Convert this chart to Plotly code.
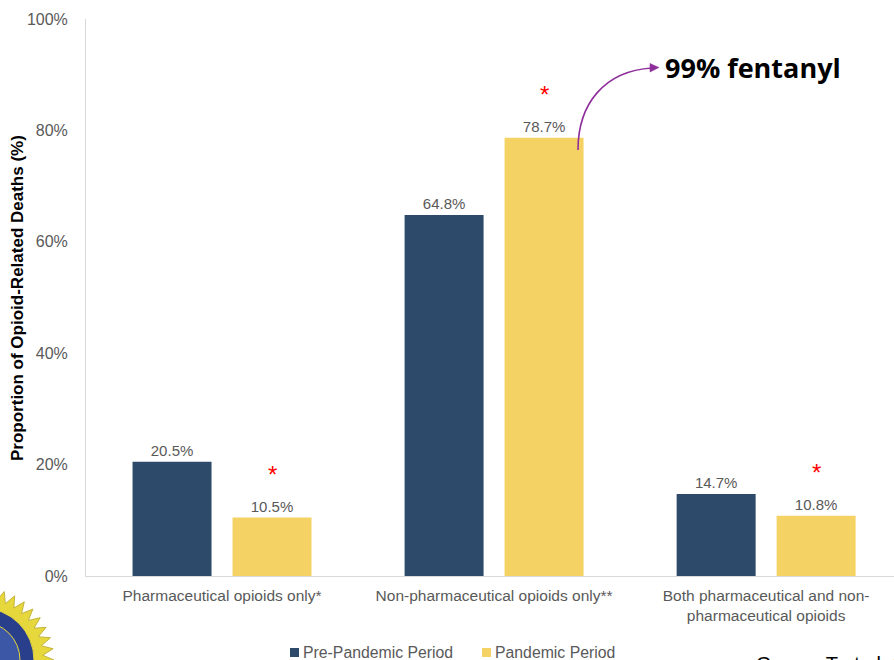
import numpy as np
import plotly.graph_objects as go

# Opioid-related deaths by opioid type, before vs during the pandemic
categories = [
    "Pharmaceutical opioids only*",
    "Non-pharmaceutical opioids only**",
    "Both pharmaceutical and non-<br>pharmaceutical opioids",
]
series_names = ["Pre-Pandemic Period", "Pandemic Period"]
pre_pandemic = [20.5, 64.8, 14.7]
pandemic = [10.5, 78.7, 10.8]
significant = [True, True, True]
y_ticks = [0, 20, 40, 60, 80, 100]
y_tick_labels = ["0%", "20%", "40%", "60%", "80%", "100%"]

NAVY = "#2E4A6B"
GOLD = "#F5D264"
GREY = "#595959"
PURPLE = "#8E2E9A"
FONT = "Liberation Sans, Arial"

W, H = 894, 660
L, R, T, B = 86, 0, 19, 84
PW, PH = W - L - R, H - T - B


def px(x):
    return (x - L) / PW


def py(y):
    return (H - B - y) / PH


xs = list(range(len(categories)))
fig = go.Figure()
for name, vals, col in [(series_names[0], pre_pandemic, NAVY), (series_names[1], pandemic, GOLD)]:
    fig.add_trace(go.Bar(
        x=xs, y=vals, name=name, marker=dict(color=col, line=dict(width=0)),
        text=[f"{v:.1f}%" for v in vals], textposition="outside",
        textfont=dict(family=FONT, size=15, color=GREY),
        cliponaxis=False, showlegend=False,
    ))

annotations = []
# significance markers above pandemic bars
offset = 0.184
for i, v in enumerate(pandemic):
    if significant[i]:
        annotations.append(dict(
            x=i + offset, y=v, xref="x", yref="y", text="*", showarrow=False,
            yanchor="bottom", yshift=28,
            font=dict(family=FONT, size=24, color="#FF0000"),
        ))

# y-axis title
annotations.append(dict(
    x=px(17), y=py(298), xref="paper", yref="paper", textangle=-90,
    xanchor="center", yanchor="middle",
    text="<b>Proportion of Opioid-Related Deaths (%)</b>", showarrow=False,
    font=dict(family=FONT, size=17, color="#000000"),
))

# callout text
annotations.append(dict(
    x=px(663), y=py(67), xref="paper", yref="paper", xanchor="left", yanchor="middle",
    text="<b>99% fentanyl</b>", showarrow=False,
    font=dict(family="Open Sans", size=27, color="#000000"),
))

# source line (runs off the bottom edge)
annotations.append(dict(
    x=px(754), y=py(651), xref="paper", yref="paper", xanchor="left", yanchor="top",
    text="Gomes T et al. CMAJ 2021", showarrow=False,
    font=dict(family=FONT, size=20, color="#000000"),
))

shapes = []
# curved callout arrow
p0, c1, c2, p1 = (578, 150), (578, 104), (604, 71), (652, 68)
path = "M {},{} C {},{} {},{} {},{}".format(
    px(p0[0]), py(p0[1]), px(c1[0]), py(c1[1]), px(c2[0]), py(c2[1]), px(p1[0]), py(p1[1]))
shapes.append(dict(type="path", xref="paper", yref="paper", path=path,
                   line=dict(color=PURPLE, width=1.6)))
tip = "M {},{} L {},{} L {},{} Z".format(px(659), py(67.5), px(650), py(63.5), px(650), py(72))
shapes.append(dict(type="path", xref="paper", yref="paper", path=tip,
                   fillcolor=PURPLE, line=dict(color=PURPLE, width=0.5)))

# legend drawn as swatches + labels
legend_items = [(series_names[0], NAVY, 290), (series_names[1], GOLD, 482)]
for name, col, x0 in legend_items:
    shapes.append(dict(type="rect", xref="paper", yref="paper",
                       x0=px(x0), x1=px(x0 + 9), y0=py(657), y1=py(648),
                       fillcolor=col, line=dict(width=0)))
    annotations.append(dict(
        x=px(x0 + 11), y=py(652), xref="paper", yref="paper", xanchor="left",
        yanchor="middle", text=name, showarrow=False,
        font=dict(family=FONT, size=15.8, color=GREY),
    ))

# seal emblem in the lower-left corner
cx, cy = -18, 660
n = 80
ang = np.linspace(0, 2 * np.pi, n, endpoint=False)
rad = np.where(np.arange(n) % 2 == 0, 72, 61)
pts = [(px(cx + r * np.cos(a)), py(cy + r * np.sin(a))) for r, a in zip(rad, ang)]
seal = "M " + " L ".join(f"{x},{y}" for x, y in pts) + " Z"
shapes.append(dict(type="path", xref="paper", yref="paper", path=seal,
                   fillcolor="#E6D83C", line=dict(color="#B8A62A", width=0.8), layer="below"))
for r, colr in [(52, "#2A3F8C"), (38, "#3C57A6")]:
    shapes.append(dict(type="circle", xref="paper", yref="paper",
                       x0=px(cx - r), x1=px(cx + r), y0=py(cy + r), y1=py(cy - r),
                       fillcolor=colr, line=dict(color="#E6D83C", width=1), layer="below"))

fig.update_layout(
    width=W, height=H,
    margin=dict(l=L, r=R, t=T, b=B, pad=0),
    paper_bgcolor="white", plot_bgcolor="white",
    barmode="group", bargap=0.265, bargroupgap=0.21,
    showlegend=False,
    annotations=annotations, shapes=shapes,
    font=dict(family=FONT, color=GREY),
)
fig.update_xaxes(
    range=[-0.5, 2.47], tickvals=xs, ticktext=categories,
    showgrid=False, zeroline=False, showline=True, linecolor="#D9D9D9", linewidth=1,
    ticks="", ticklabelstandoff=5, tickfont=dict(size=15.5, color=GREY),
)
fig.update_yaxes(
    range=[0, 100], tickvals=y_ticks, ticktext=y_tick_labels,
    showgrid=False, zeroline=False, showline=True, linecolor="#D9D9D9", linewidth=1,
    ticks="", ticklabelstandoff=14, tickfont=dict(size=16, color=GREY),
)

fig.write_html("out.html")
